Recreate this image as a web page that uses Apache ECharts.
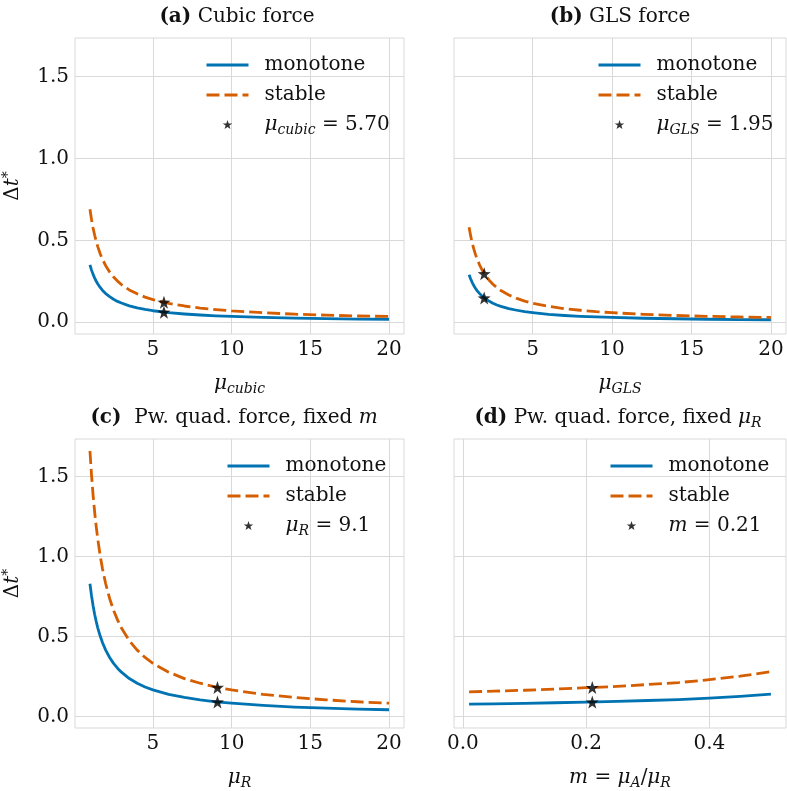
<!DOCTYPE html>
<html>
<head>
<meta charset="utf-8">
<script src="https://cdn.jsdelivr.net/npm/echarts@6/dist/echarts.min.js"></script>
<style>
  html, body { margin: 0; padding: 0; background: #fff; }
  #chart { width: 787px; height: 791px; }
</style>
</head>
<body>
<div id="chart"></div>
<script>
// sampled x positions (panels a, b, c) and (panel d)
const muX = [1, 1.1, 1.2, 1.3, 1.4, 1.5, 1.65, 1.8, 2, 2.25, 2.5, 2.75, 3, 3.5, 4, 4.5, 5, 6, 7, 8, 9, 10, 12, 14, 16, 18, 20];
const mX = [0.01, 0.05, 0.1, 0.15, 0.2, 0.25, 0.3, 0.35, 0.4, 0.45, 0.5];

// values
const cubicMono = [0.35, 0.318, 0.292, 0.269, 0.25, 0.233, 0.212, 0.194, 0.175, 0.156, 0.14, 0.127, 0.117, 0.1, 0.088, 0.078, 0.07, 0.058, 0.05, 0.044, 0.039, 0.035, 0.029, 0.025, 0.022, 0.019, 0.018];
const cubicStable = [0.69, 0.627, 0.575, 0.531, 0.493, 0.46, 0.418, 0.383, 0.345, 0.307, 0.276, 0.251, 0.23, 0.197, 0.173, 0.153, 0.138, 0.115, 0.099, 0.086, 0.077, 0.069, 0.058, 0.049, 0.043, 0.038, 0.035];
const glsMono = [0.29, 0.264, 0.242, 0.223, 0.207, 0.193, 0.176, 0.161, 0.145, 0.129, 0.116, 0.105, 0.097, 0.083, 0.073, 0.064, 0.058, 0.048, 0.041, 0.036, 0.032, 0.029, 0.024, 0.021, 0.018, 0.016, 0.015];
const glsStable = [0.58, 0.527, 0.483, 0.446, 0.414, 0.387, 0.352, 0.322, 0.29, 0.258, 0.232, 0.211, 0.193, 0.166, 0.145, 0.129, 0.116, 0.097, 0.083, 0.073, 0.064, 0.058, 0.048, 0.041, 0.036, 0.032, 0.029];
const pwMuMono = [0.83, 0.755, 0.692, 0.638, 0.593, 0.553, 0.503, 0.461, 0.415, 0.369, 0.332, 0.302, 0.277, 0.237, 0.208, 0.184, 0.166, 0.138, 0.119, 0.104, 0.092, 0.083, 0.069, 0.059, 0.052, 0.046, 0.042];
const pwMuStable = [1.66, 1.509, 1.383, 1.277, 1.186, 1.107, 1.006, 0.922, 0.83, 0.738, 0.664, 0.604, 0.553, 0.474, 0.415, 0.369, 0.332, 0.277, 0.237, 0.208, 0.184, 0.166, 0.138, 0.119, 0.104, 0.092, 0.083];
const pwMMono = [0.077, 0.079, 0.082, 0.086, 0.09, 0.094, 0.1, 0.106, 0.115, 0.126, 0.14];
const pwMStable = [0.154, 0.158, 0.164, 0.172, 0.18, 0.188, 0.2, 0.212, 0.23, 0.252, 0.28];

// chosen parameter markers [x, monotone, stable]
const starCubic = [5.70, 0.061, 0.122];
const starGls = [1.95, 0.148, 0.296];
const starPwMu = [9.1, 0.091, 0.182];
const starPwM = [0.21, 0.09, 0.181];

const muTicks = [5, 10, 15, 20];
const mTicks = [0.0, 0.2, 0.4];
const yTicks = [0.0, 0.5, 1.0, 1.5];

const FONT = 'DejaVu Serif';
const FS = 20;
const TXT = '#111';
const BLUE = '#0173b2';
const ORANGE = '#d55e00';
const GRIDC = '#d9d9d9';
const DASH = [13, 5];

const STAR = 'path://M0,-10L2.35,-3.24L9.51,-3.09L3.8,1.24L5.88,8.09L0,4L-5.88,8.09L-3.8,1.24L-9.51,-3.09L-2.35,-3.24Z';
// same star with empty margin so the legend icon comes out smaller
const STAR_LEG = 'path://M-14,-14M14,14M0,-10L2.35,-3.24L9.51,-3.09L3.8,1.24L5.88,8.09L0,4L-5.88,8.09L-3.8,1.24L-9.51,-3.09L-2.35,-3.24Z';

const rich = {
  r: { fontFamily: FONT, fontSize: FS, lineHeight: 24, color: TXT },
  i: { fontFamily: FONT, fontStyle: 'italic', fontSize: FS, lineHeight: 24, color: TXT },
  s: { fontFamily: FONT, fontStyle: 'italic', fontSize: 14, lineHeight: 14, verticalAlign: 'bottom', color: TXT },
  b: { fontFamily: FONT, fontWeight: 'bold', fontSize: FS, lineHeight: 24, color: TXT },
  sup: { fontFamily: FONT, fontSize: 14, lineHeight: 14, verticalAlign: 'top', color: TXT }
};

const starLabels = {
  sa: '{i|μ}{s|cubic}{r| = 5.70}',
  sb: '{i|μ}{s|GLS}{r| = 1.95}',
  sc: '{i|μ}{s|R}{r| = 9.1}',
  sd: '{i|m}{r| = 0.21}'
};

const grids = [
  { left: 71, top: 38, width: 333, height: 296, show: true, borderColor: GRIDC, borderWidth: 1 },
  { left: 454, top: 38, width: 332, height: 296, show: true, borderColor: GRIDC, borderWidth: 1 },
  { left: 71, top: 439, width: 333, height: 296, show: true, borderColor: GRIDC, borderWidth: 1 },
  { left: 454, top: 439, width: 332, height: 296, show: true, borderColor: GRIDC, borderWidth: 1 }
];

function xAxis(idx, min, max, ticks, fmt, name) {
  return {
    type: 'value', gridIndex: idx, min: min, max: max,
    axisLine: { show: false },
    axisTick: { show: false, customValues: ticks },
    axisLabel: { customValues: ticks, formatter: fmt, margin: 6, fontFamily: FONT, fontSize: FS, color: TXT },
    splitLine: { show: true, lineStyle: { color: GRIDC, width: 1 } },
    name: name, nameLocation: 'middle', nameGap: 38,
    nameTextStyle: { rich: rich, fontFamily: FONT, fontSize: FS, color: TXT }
  };
}

function yAxis(idx, labels) {
  return {
    type: 'value', gridIndex: idx, min: -0.072, max: 1.735,
    axisLine: { show: false },
    axisTick: { show: false, customValues: yTicks },
    axisLabel: { show: labels, customValues: yTicks, formatter: v => v.toFixed(1), margin: 6, fontFamily: FONT, fontSize: FS, color: TXT },
    splitLine: { show: true, lineStyle: { color: GRIDC, width: 1 } },
    name: labels ? '{r|Δ}{i|t}{sup|*}' : '', nameLocation: 'middle', nameRotate: 90, nameGap: 50,
    nameTextStyle: { rich: rich, fontFamily: FONT, fontSize: FS, color: TXT }
  };
}

function pairs(xs, ys) {
  return xs.map((x, k) => [x, ys[k]]);
}

function panelSeries(idx, xs, mono, stable, star, starName) {
  return [
    {
      name: 'monotone', type: 'line', xAxisIndex: idx, yAxisIndex: idx,
      data: pairs(xs, mono), symbol: 'none',
      lineStyle: { color: BLUE, width: 2.8, join: 'round' }, itemStyle: { color: BLUE }, z: 2
    },
    {
      name: 'stable', type: 'line', xAxisIndex: idx, yAxisIndex: idx,
      data: pairs(xs, stable), symbol: 'none',
      lineStyle: { color: ORANGE, width: 2.8, type: DASH, join: 'round' }, itemStyle: { color: ORANGE }, z: 2
    },
    {
      name: starName, type: 'scatter', xAxisIndex: idx, yAxisIndex: idx,
      data: [[star[0], star[1]], [star[0], star[2]]],
      symbol: STAR, symbolSize: 13, itemStyle: { color: '#000' }, z: 5
    }
  ];
}

function legend(left, top, starName) {
  return {
    left: left, top: top, orient: 'vertical', padding: 0,
    itemWidth: 42, itemHeight: 14, itemGap: 10,
    selectedMode: false,
    data: [
      { name: 'monotone', itemStyle: { opacity: 0 }, lineStyle: { width: 3 } },
      { name: 'stable', itemStyle: { opacity: 0 }, lineStyle: { width: 3 } },
      { name: starName, icon: STAR_LEG }
    ],
    formatter: name => starLabels[name] ? starLabels[name] : '{r|' + name + '}',
    textStyle: { rich: rich, fontFamily: FONT, fontSize: FS, color: TXT, padding: [0, 0, 0, 11] }
  };
}

function title(text, x, y) {
  return {
    text: text, left: x, top: y, textAlign: 'center', padding: 0,
    textStyle: { rich: rich, fontFamily: FONT, fontSize: FS, fontWeight: 'normal', color: TXT }
  };
}

const option = {
  backgroundColor: '#fff',
  animation: false,
  title: [
    title('{b|(a)}{r| Cubic force}', 237, 5),
    title('{b|(b)}{r| GLS force}', 620, 5),
    title('{b|(c)}{r|  Pw. quad. force, fixed }{i|m}', 234, 406),
    title('{b|(d)}{r| Pw. quad. force, fixed }{i|μ}{s|R}', 618, 406)
  ],
  legend: [
    legend(205, 55, 'sa'),
    legend(597, 55, 'sb'),
    legend(226, 456, 'sc'),
    legend(609, 456, 'sd')
  ],
  grid: grids,
  xAxis: [
    xAxis(0, 0.05, 20.95, muTicks, v => String(v), '{i|μ}{s|cubic}'),
    xAxis(1, 0.05, 20.95, muTicks, v => String(v), '{i|μ}{s|GLS}'),
    xAxis(2, 0.05, 20.95, muTicks, v => String(v), '{i|μ}{s|R}'),
    xAxis(3, -0.0145, 0.5245, mTicks, v => v.toFixed(1), '{i|m}{r| = }{i|μ}{s|A}{r|/}{i|μ}{s|R}')
  ],
  yAxis: [yAxis(0, true), yAxis(1, false), yAxis(2, true), yAxis(3, false)],
  series: [].concat(
    panelSeries(0, muX, cubicMono, cubicStable, starCubic, 'sa'),
    panelSeries(1, muX, glsMono, glsStable, starGls, 'sb'),
    panelSeries(2, muX, pwMuMono, pwMuStable, starPwMu, 'sc'),
    panelSeries(3, mX, pwMMono, pwMStable, starPwM, 'sd')
  )
};

const chart = echarts.init(document.getElementById('chart'));
chart.setOption(option);
</script>
</body>
</html>
